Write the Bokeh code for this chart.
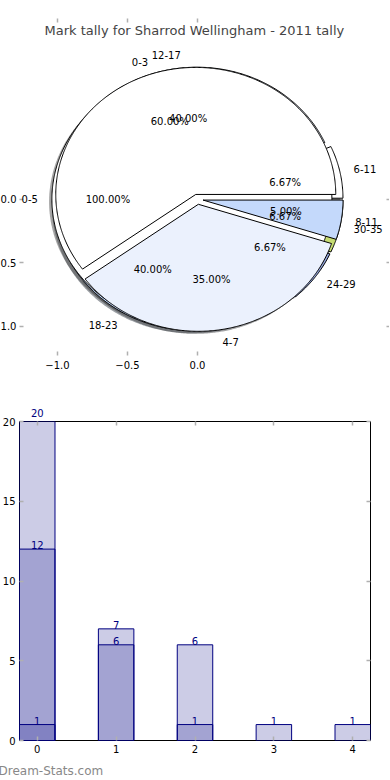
import numpy as np
from bokeh.plotting import figure
from bokeh.models import (ColumnDataSource, Label, LinearAxis, FixedTicker,
                          CustomJSTickFormatter, Title, Range1d)
from bokeh.layouts import column
from bokeh.embed import file_html
from bokeh.resources import INLINE

# ---------------- data ----------------
TITLE = "Mark tally for Sharrod Wellingham - 2011 tally"
WATERMARK = "Dream-Stats.com"

# three pies drawn on top of each other (in drawing order)
pie_c_labels = ["6-11", "12-17", "18-23", "24-29", "30-35"]
pie_c_values = [1, 6, 6, 1, 1]
pie_a_labels = ["0-5"]
pie_a_values = [1]
pie_b_labels = ["0-3", "4-7", "8-11"]
pie_b_values = [12, 7, 1]
slice_colors = ["#ffffff", "#ebf1fd", "#c4d9fb", "#93a6dc", "#c6dc72"]

pie_ticks = [-1.0, -0.5, 0.0]

bar_cats = [0, 1, 2, 3, 4]
bar_light_x = [0, 1, 2, 3, 4]
bar_light = [20, 7, 6, 1, 1]
bar_mid_x = [0, 1, 2]
bar_mid = [12, 6, 1]
bar_dark_x = [0]
bar_dark = [1]
bar_yticks = [0, 5, 10, 15, 20]
BAR_YMAX = 20

FONT = "DejaVu Sans"
EXPLODE = 0.04
SHADOW_OFF = 0.02
TICK_COLOR = "#b0b0b0"


def darker_hex(hexcol, k=0.3):
    h = hexcol.lstrip("#")
    r, g, b = (int(h[i:i + 2], 16) for i in (0, 2, 4))
    return "#%02x%02x%02x" % (int(r * k), int(g * k), int(b * k))


def pie_geometry(values, labels):
    total = float(sum(values))
    t1 = 0.0
    wedges, texts = [], []
    for i, (v, lab) in enumerate(zip(values, labels)):
        frac = v / total
        t2 = t1 + 360.0 * frac
        mid = np.deg2rad((t1 + t2) / 2.0)
        cx, cy = EXPLODE * np.cos(mid), EXPLODE * np.sin(mid)
        n = max(int(abs(t2 - t1)) * 2, 8)
        t = np.deg2rad(np.linspace(t1, t2, n))
        if frac >= 0.999999:
            xs = list(cx + np.cos(t))
            ys = list(cy + np.sin(t))
        else:
            xs = [cx] + list(cx + np.cos(t)) + [cx]
            ys = [cy] + list(cy + np.sin(t)) + [cy]
        col = slice_colors[i % len(slice_colors)]
        wedges.append((xs, ys, col))
        xt = cx + 1.1 * np.cos(mid)
        yt = cy + 1.1 * np.sin(mid)
        xp = cx + 0.6 * np.cos(mid)
        yp = cy + 0.6 * np.sin(mid)
        texts.append((xt, yt, lab, "left" if xt > 0 else "right",
                      xp, yp, "%.2f%%" % (frac * 100)))
        t1 = t2
    return wedges, texts


all_wedges, all_texts = [], []
for vals, labs in [(pie_c_values, pie_c_labels), (pie_a_values, pie_a_labels),
                   (pie_b_values, pie_b_labels)]:
    w, t = pie_geometry(vals, labs)
    all_wedges += w
    all_texts += t

minus_fmt = CustomJSTickFormatter(code="return tick.toFixed(1).replace('-', '\u2212');")
blank_fmt = CustomJSTickFormatter(code="return '';")


def style_axis(ax, ticks, fmt, standoff=5):
    ax.ticker = FixedTicker(ticks=ticks)
    ax.formatter = fmt
    ax.axis_line_color = None
    ax.major_tick_in = 4
    ax.major_tick_out = 0
    ax.major_tick_line_color = TICK_COLOR
    ax.major_tick_line_width = 1.5
    ax.minor_tick_line_color = None
    ax.major_label_text_font = FONT
    ax.major_label_text_font_size = "10px"
    ax.major_label_text_color = "black"
    ax.major_label_standoff = standoff


# ---------------- pie figure ----------------
p1 = figure(width=400, height=385, frame_width=371, frame_height=315,
            min_border_left=29, min_border_right=0, min_border_top=40,
            min_border_bottom=30,
            x_range=Range1d(-1.2714, 1.3786), y_range=Range1d(-1.23, 1.25),
            output_backend="svg", toolbar_location=None)
p1.add_layout(Title(text=TITLE, text_font=FONT, text_font_size="13px",
                    text_font_style="normal", align="left", offset=25,
                    standoff=5), "above")
p1.outline_line_color = None
p1.grid.visible = False
p1.background_fill_color = "white"
p1.border_fill_color = "white"

shadow_src = ColumnDataSource(dict(
    xs=[[x - SHADOW_OFF for x in w[0]] for w in all_wedges],
    ys=[[y - SHADOW_OFF for y in w[1]] for w in all_wedges],
    c=[darker_hex(w[2]) for w in all_wedges]))
p1.patches("xs", "ys", source=shadow_src, fill_color="c", fill_alpha=0.5,
           line_color=None)
wedge_src = ColumnDataSource(dict(xs=[w[0] for w in all_wedges],
                                  ys=[w[1] for w in all_wedges],
                                  c=[w[2] for w in all_wedges]))
p1.patches("xs", "ys", source=wedge_src, fill_color="c", line_color="black",
           line_width=1)

for (xt, yt, lab, align, xp, yp, pct) in all_texts:
    p1.add_layout(Label(x=xt, y=yt, text=lab, text_align=align,
                        text_baseline="middle", text_font=FONT,
                        text_font_size="10px", text_color="black"))
    p1.add_layout(Label(x=xp, y=yp, text=pct, text_align="center",
                        text_baseline="middle", text_font=FONT,
                        text_font_size="10px", text_color="black"))

style_axis(p1.xaxis[0], pie_ticks, minus_fmt, 5)
style_axis(p1.yaxis[0], pie_ticks, minus_fmt, 3)
top1 = LinearAxis()
style_axis(top1, pie_ticks, blank_fmt, 0)
p1.add_layout(top1, "above")
right1 = LinearAxis()
style_axis(right1, pie_ticks, blank_fmt, 0)
p1.add_layout(right1, "right")

# ---------------- bar figure ----------------
p2 = figure(width=400, height=387, frame_width=351, frame_height=319,
            min_border_left=31, min_border_right=18, min_border_top=36,
            min_border_bottom=32,
            x_range=Range1d(-0.225, 4.225), y_range=Range1d(0, BAR_YMAX),
            output_backend="svg", toolbar_location=None)
p2.grid.visible = False
p2.outline_line_color = "black"
p2.outline_line_width = 1
p2.background_fill_color = "white"
p2.border_fill_color = "white"

top_x, top_txt = [], []
for xs_, tops in [(bar_light_x, bar_light), (bar_mid_x, bar_mid),
                  (bar_dark_x, bar_dark)]:
    p2.vbar(x=xs_, top=tops, bottom=0, width=0.45, fill_color="navy",
            fill_alpha=0.2, line_color="navy", line_width=1)
    for xv, tv in zip(xs_, tops):
        if tv >= BAR_YMAX:
            # value label sitting above the plot frame
            top_x.append(xv)
            top_txt.append(str(tv))
        else:
            p2.add_layout(Label(x=xv, y=tv, text=str(tv), text_align="center",
                                text_baseline="bottom", text_font=FONT,
                                text_font_size="10px", text_color="navy"))

style_axis(p2.xaxis[0], bar_cats, CustomJSTickFormatter(code="return tick.toFixed(0);"), 4)
style_axis(p2.yaxis[0], bar_yticks, CustomJSTickFormatter(code="return tick.toFixed(0);"), 4)
top2 = LinearAxis()
style_axis(top2, bar_cats, CustomJSTickFormatter(
    args=dict(xs=top_x, labels=top_txt),
    code="const i = xs.indexOf(tick); return i >= 0 ? labels[i] : '';"), 5)
top2.major_label_text_color = "navy"
p2.add_layout(top2, "above")
right2 = LinearAxis()
style_axis(right2, bar_yticks, blank_fmt, 0)
p2.add_layout(right2, "right")

wm = Title(text=WATERMARK, align="left", offset=-21, text_color="#888888",
           text_font=FONT, text_font_size="12px", text_font_style="normal",
           standoff=12)
p2.add_layout(wm, "below")

layout = column(p1, p2, styles={"margin-left": "-12px", "margin-top": "0px"})

open("out.html", "w").write(file_html(layout, INLINE))
